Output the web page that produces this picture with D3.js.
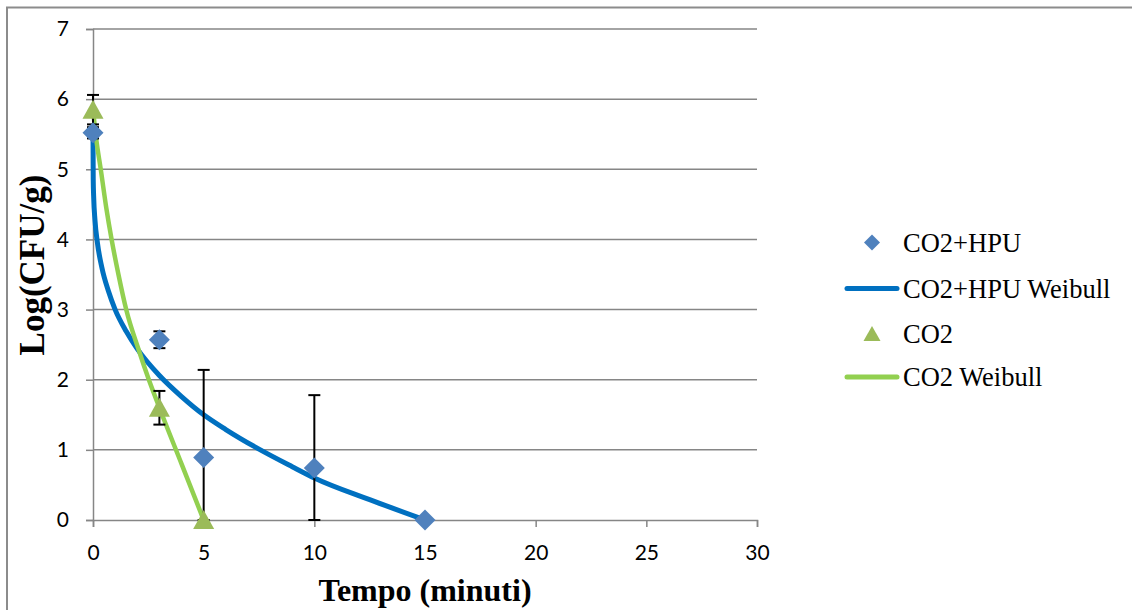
<!DOCTYPE html>
<html>
<head>
<meta charset="utf-8">
<script src="https://cdn.jsdelivr.net/npm/d3@7/dist/d3.min.js"></script>
<style>
  html, body { margin: 0; padding: 0; background: #ffffff; }
  svg { display: block; }
</style>
</head>
<body>
<svg id="chart" width="1132" height="610"></svg>
<script>
// ---- data ----
const hpuTime = [0, 3, 5, 10, 15];
const hpuValues = [5.52, 2.57, 0.89, 0.74, 0];
const hpuErrors = [0.08, 0.12, 1.25, 1.04, 0];

const co2Time = [0, 3, 5];
const co2Values = [5.85, 1.60, 0];
const co2Errors = [0.21, 0.24, 0];

const hpuWeibullTime = [0, 0.01, 0.03, 0.09, 0.2, 0.4, 0.7, 1.0, 1.5, 2, 3, 4, 5, 6, 7.5, 9, 10, 12.5, 15];
const hpuWeibullValues = [5.52, 4.86, 4.61, 4.27, 3.95, 3.6, 3.26, 3.0, 2.69, 2.44, 2.06, 1.76, 1.50, 1.29, 1.01, 0.76, 0.6, 0.29, 0];

const co2WeibullTime = [0, 0.15, 0.35, 0.6, 0.84, 1.15, 1.5, 2.07, 2.5, 3, 4, 5];
const co2WeibullValues = [5.85, 5.42, 5.0, 4.45, 4.0, 3.5, 3.0, 2.42, 2.02, 1.6, 0.8, 0];

const xTicks = [0, 5, 10, 15, 20, 25, 30];
const yTicks = [0, 1, 2, 3, 4, 5, 6, 7];

const seriesNames = ["CO2+HPU", "CO2+HPU Weibull", "CO2", "CO2 Weibull"];

(function () {
// ---- layout ----
const svg = d3.select("#chart");
const pL = 93, pR = 757, pT = 29, pB = 520;
const x = d3.scaleLinear().domain([0, 30]).range([pL, pR]);
const y = d3.scaleLinear().domain([0, 7]).range([pB, pT]);

const gridColor = "#868686";
const blueLine = "#0070C0", greenLine = "#92D050";
const blueMarker = "#4F81BD", greenMarker = "#9BBB59";

svg.append("rect").attr("width", 1132).attr("height", 610).attr("fill", "#fff");
// outer frame
svg.append("rect").attr("x", 7).attr("y", 7.5).attr("width", 1140).attr("height", 620)
  .attr("fill", "none").attr("stroke", "#8c8c8c").attr("stroke-width", 2);

// gridlines
svg.append("g").selectAll("line").data(yTicks.filter(d => d > 0)).join("line")
  .attr("x1", pL).attr("x2", pR)
  .attr("y1", d => y(d)).attr("y2", d => y(d))
  .attr("stroke", gridColor).attr("stroke-width", 1.5);

// y axis
const yAxis = d3.axisLeft(y).tickValues(yTicks).tickSize(7).tickPadding(17).tickFormat(d3.format("d"));
const gy = svg.append("g").attr("transform", `translate(${pL},0)`).call(yAxis);
gy.select(".domain").attr("stroke", gridColor).attr("stroke-width", 1.5);
gy.selectAll(".tick line").attr("stroke", gridColor).attr("stroke-width", 1.5);
gy.selectAll(".tick text").attr("font-family", "Lato, 'Open Sans', sans-serif")
  .attr("font-size", 21).attr("fill", "#000");

// x axis
const xAxis = d3.axisBottom(x).tickValues(xTicks).tickSize(7).tickPadding(18).tickFormat(d3.format("d"));
const gx = svg.append("g").attr("transform", `translate(0,${pB})`).call(xAxis);
gx.select(".domain").attr("stroke", gridColor).attr("stroke-width", 1.5);
gx.selectAll(".tick line").attr("stroke", gridColor).attr("stroke-width", 1.5);
gx.selectAll(".tick text").attr("font-family", "Lato, 'Open Sans', sans-serif")
  .attr("font-size", 21).attr("fill", "#000");

// axis titles
svg.append("text").attr("x", (pL + pR) / 2).attr("y", 601)
  .attr("text-anchor", "middle").attr("font-family", "'Liberation Serif', 'Times New Roman', serif")
  .attr("font-weight", "bold").attr("font-size", 32).text("Tempo (minuti)");
svg.append("text").attr("transform", `translate(44,265) rotate(-90)`)
  .attr("text-anchor", "middle").attr("font-family", "'Liberation Serif', 'Times New Roman', serif")
  .attr("font-weight", "bold").attr("font-size", 35).text("Log(CFU/g)");

// curves
const line = d3.line().x(d => x(d[0])).y(d => y(d[1])).curve(d3.curveMonotoneX);
const hpuCurve = hpuWeibullTime.map((t, i) => [t, hpuWeibullValues[i]]);
const co2Curve = co2WeibullTime.map((t, i) => [t, co2WeibullValues[i]]);
svg.append("path").datum(hpuCurve).attr("d", line).attr("fill", "none")
  .attr("stroke", blueLine).attr("stroke-width", 5).attr("stroke-linecap", "round");
svg.append("path").datum(co2Curve).attr("d", line).attr("fill", "none")
  .attr("stroke", greenLine).attr("stroke-width", 4.5).attr("stroke-linecap", "round");

// error bars
function errorBars(times, vals, errs) {
  const data = times.map((t, i) => ({ t, v: vals[i], e: errs[i] })).filter(d => d.e > 0);
  const g = svg.append("g").attr("stroke", "#000").attr("stroke-width", 2);
  data.forEach(d => {
    const hi = d.v + d.e, lo = Math.max(0, d.v - d.e);
    const cx = x(d.t);
    g.append("line").attr("x1", cx).attr("x2", cx).attr("y1", y(hi)).attr("y2", y(lo));
    g.append("line").attr("x1", cx - 6).attr("x2", cx + 6).attr("y1", y(hi)).attr("y2", y(hi));
    g.append("line").attr("x1", cx - 6).attr("x2", cx + 6).attr("y1", y(lo)).attr("y2", y(lo));
  });
}
errorBars(hpuTime, hpuValues, hpuErrors);
errorBars(co2Time, co2Values, co2Errors);

// markers
const diamond = "M0,-10.5L10.5,0L0,10.5L-10.5,0Z";
const triangle = "M0,-10L10.5,9L-10.5,9Z";
svg.append("g").selectAll("path").data(hpuTime.map((t, i) => [t, hpuValues[i]])).join("path")
  .attr("transform", d => `translate(${x(d[0])},${y(d[1])})`).attr("d", diamond).attr("fill", blueMarker);
svg.append("g").selectAll("path").data(co2Time.map((t, i) => [t, co2Values[i]])).join("path")
  .attr("transform", d => `translate(${x(d[0])},${y(d[1])})`).attr("d", triangle).attr("fill", greenMarker);

// legend
const legendY = [242.5, 288.5, 334, 377];
const lg = svg.append("g");
const legFont = "'Liberation Serif', 'Times New Roman', serif";
lg.append("path").attr("transform", `translate(872,${legendY[0]})`).attr("d", "M0,-8L8,0L0,8L-8,0Z").attr("fill", blueMarker);
lg.append("line").attr("x1", 847).attr("x2", 897).attr("y1", legendY[1]).attr("y2", legendY[1])
  .attr("stroke", blueLine).attr("stroke-width", 5).attr("stroke-linecap", "round");
lg.append("path").attr("transform", `translate(872,${legendY[2]})`).attr("d", "M0,-8L8.5,7L-8.5,7Z").attr("fill", greenMarker);
lg.append("line").attr("x1", 847).attr("x2", 897).attr("y1", legendY[3]).attr("y2", legendY[3])
  .attr("stroke", greenLine).attr("stroke-width", 5).attr("stroke-linecap", "round");
lg.selectAll("text").data(seriesNames).join("text")
  .attr("x", 903).attr("y", (d, i) => legendY[i] + 9)
  .attr("font-family", legFont).attr("font-size", 26.5).attr("fill", "#000").text(d => d);
})();
</script>
</body>
</html>
